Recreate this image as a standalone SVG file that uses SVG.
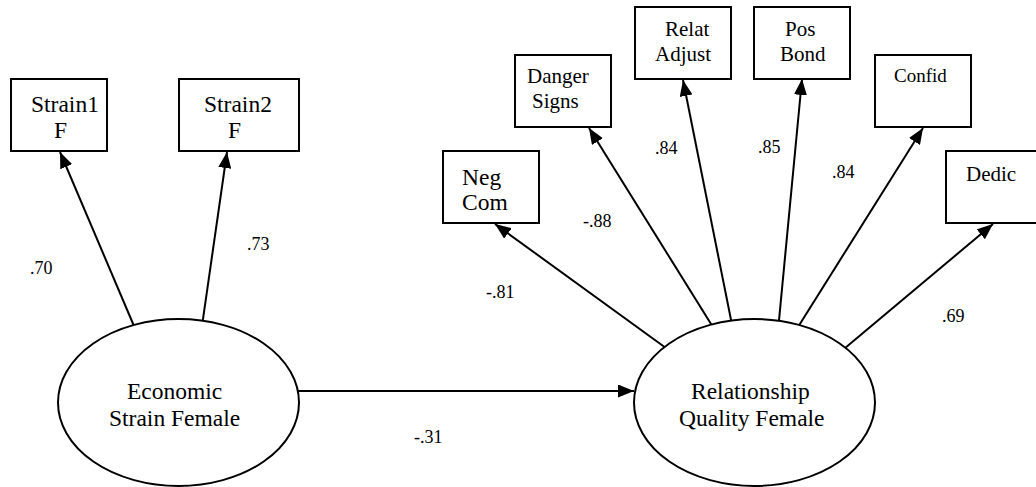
<svg xmlns="http://www.w3.org/2000/svg" width="1036" height="487" viewBox="0 0 1036 487">
<style>
.box{fill:#fff;stroke:#000;stroke-width:2}
.ell{fill:#fff;stroke:#000;stroke-width:2}
.con{fill:none;stroke:#000;stroke-width:2;marker-end:url(#ah)}
text{font-family:'Liberation Serif','DejaVu Serif',serif;fill:#000}
.big{font-size:23.5px}
.mid{font-size:21px}
.sm{font-size:19px}
.lbl{font-size:18px}
</style>
<defs>
<marker id="ah" markerUnits="userSpaceOnUse" markerWidth="17" markerHeight="13" refX="16" refY="6.5" orient="auto">
<path d="M0,0 L16,6.5 L0,13 z" fill="#000"/>
</marker>
</defs>
<rect width="1036" height="487" fill="#fff"/>
<g id="connectors">
<line class="con" x1="135.7" y1="330" x2="60" y2="152"/>
<line class="con" x1="201.3" y1="330.9" x2="227" y2="152"/>
<line class="con" x1="290" y1="391" x2="634" y2="391"/>
<line class="con" x1="668.7" y1="350" x2="495" y2="224"/>
<line class="con" x1="714.3" y1="329.2" x2="589" y2="128"/>
<line class="con" x1="733.4" y1="331.8" x2="683" y2="80"/>
<line class="con" x1="777.9" y1="331.9" x2="802" y2="79"/>
<line class="con" x1="796.6" y1="329.2" x2="923" y2="128"/>
<line class="con" x1="841.8" y1="350.7" x2="993" y2="224"/>
</g>
<g id="labels" font-family="Liberation Serif, DejaVu Serif, serif">
<text class="lbl" x="30" y="274">.70</text>
<text class="lbl" x="247" y="250">.73</text>
<text class="lbl" x="486" y="298">-.81</text>
<text class="lbl" x="583" y="227">-.88</text>
<text class="lbl" x="655" y="154">.84</text>
<text class="lbl" x="758" y="153">.85</text>
<text class="lbl" x="832" y="178">.84</text>
<text class="lbl" x="942" y="322">.69</text>
<text class="lbl" x="414" y="443">-.31</text>
</g>
<g id="econ">
<ellipse class="ell" cx="178.5" cy="402.5" rx="120.5" ry="83.5"/>
<text class="big" x="127" y="399">Economic</text>
<text class="big" x="109" y="426">Strain Female</text>
</g>
<g id="relq">
<ellipse class="ell" cx="754.5" cy="402.5" rx="120.5" ry="83.5"/>
<text class="big" x="691" y="399">Relationship</text>
<text class="big" x="679" y="426">Quality Female</text>
</g>
<g id="strain1">
<rect class="box" x="11" y="79" width="96" height="72"/>
<text class="big" x="31" y="112">Strain1</text>
<text class="big" x="54" y="138">F</text>
</g>
<g id="strain2">
<rect class="box" x="179" y="79" width="120" height="72"/>
<text class="big" x="204" y="112">Strain2</text>
<text class="big" x="228" y="138">F</text>
</g>
<g id="negcom">
<rect class="box" x="443" y="151" width="96" height="72"/>
<text class="big" x="462" y="185">Neg</text>
<text class="big" x="462" y="210">Com</text>
</g>
<g id="danger">
<rect class="box" x="515" y="55" width="96" height="72"/>
<text class="mid" x="527" y="83">Danger</text>
<text class="mid" x="532" y="108">Signs</text>
</g>
<g id="relat">
<rect class="box" x="635" y="7" width="96" height="72"/>
<text class="mid" x="665" y="36">Relat</text>
<text class="mid" x="655" y="61">Adjust</text>
</g>
<g id="posbond">
<rect class="box" x="754" y="7" width="96" height="72"/>
<text class="mid" x="785" y="36">Pos</text>
<text class="mid" x="780" y="61">Bond</text>
</g>
<g id="confid">
<rect class="box" x="875" y="55" width="96" height="72"/>
<text class="sm" x="894" y="82">Confid</text>
</g>
<g id="dedic">
<rect class="box" x="946" y="151" width="96" height="72"/>
<text class="mid" x="966" y="181">Dedic</text>
</g>
</svg>
